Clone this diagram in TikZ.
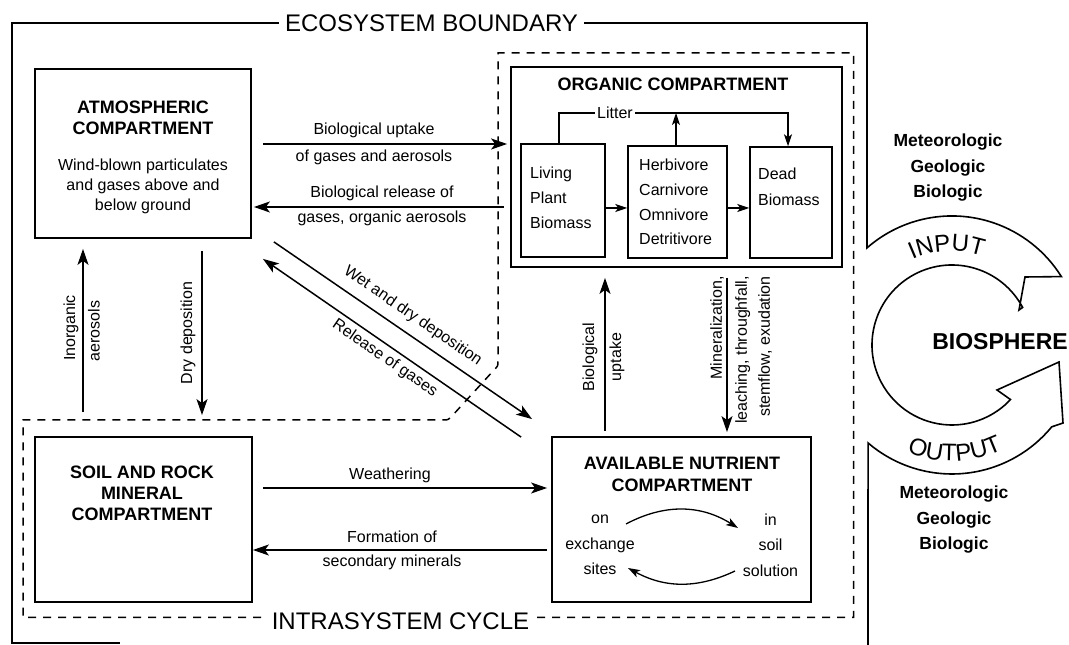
\documentclass[tikz,border=0pt]{standalone}
\usepackage{fontspec}
\setmainfont{Liberation Sans}
\usetikzlibrary{arrows.meta,calc,decorations.text}

\newcommand{\ttlfont}{\fontsize{18}{21}\selectfont\bfseries}
\newcommand{\txtfont}{\fontsize{16}{20}\selectfont}
\newcommand{\bigfont}{\fontsize{24}{28}\selectfont}

\begin{document}
\begin{tikzpicture}[x=1pt,y=1pt,
        box/.style={draw, line width=1.8pt, inner sep=0pt},
        ibox/.style={draw, line width=1.5pt, inner sep=0pt},
        ttl/.style={font=\ttlfont, align=center, inner sep=0pt},
        txt/.style={font=\txtfont, align=center, inner sep=0pt},
        lbl/.style={font=\txtfont, inner sep=2pt},
        arr/.style={line width=1.5pt, -{Stealth[length=16pt,width=11pt,inset=4pt]}},
        sarr/.style={line width=1.3pt, -{Stealth[length=12pt,width=8pt,inset=3pt]}},
        bound/.style={line width=1.6pt},
        cycdash/.style={line width=1.5pt, dash pattern=on 8pt off 7pt},
        src/.style={font=\fontsize{17.5}{25.5}\selectfont\bfseries, align=center, inner sep=0pt}]
                \useasboundingbox (0,0) rectangle (1069,645);
                \node[box, minimum width=216pt, minimum height=169pt] (atm) at (143,491.5) {};
                \node[ttl] (atmT) at (143,527.5) {ATMOSPHERIC\\COMPARTMENT};
                \node[txt] (atmB) at (143,459) {Wind-blown particulates\\and gases above and\\below ground};
                \node[box, minimum width=331pt, minimum height=200pt] (org) at (676.5,478) {};
                \node[ttl] (orgT) at (673,561) {ORGANIC COMPARTMENT};
                \node[ibox, minimum width=84pt, minimum height=113pt] (plant) at (563,444.5) {};
                \node[txt, align=left, anchor=west, font=\fontsize{16}{25}\selectfont] (plantT) at (530,447) {Living\\Plant\\Biomass};
                \node[ibox, minimum width=99pt, minimum height=112pt] (herb) at (677.5,443) {};
                \node[txt, align=left, anchor=west, font=\fontsize{16}{24.7}\selectfont] (herbT) at (639,443) {Herbivore\\Carnivore\\Omnivore\\Detritivore};
                \node[ibox, minimum width=82pt, minimum height=111pt] (dead) at (791,442.5) {};
                \node[txt, align=left, anchor=west, font=\fontsize{16}{26}\selectfont] (deadT) at (758,458) {Dead\\Biomass};
                \node[lbl] (litter) at (615,532) {Litter};
                \draw[line width=1.3pt] ([xshift=-4pt]plant.north) |- (litter.west);
                \draw[sarr] (litter.east) -| ([xshift=-3pt]dead.north);
                \draw[sarr] ([xshift=-1.5pt]herb.north) -- ([xshift=-1.5pt]herb.north |- litter);
                \draw[sarr] ([yshift=-7.5pt]plant.east) -- ([yshift=-6pt]herb.west);
                \draw[sarr] ([yshift=-6pt]herb.east) -- ([yshift=-5.5pt]dead.west);
                \draw[arr] ([shift={(11,9.5)}]atm.east) -- ([shift={(-3,23)}]org.west);
                \node[lbl] (upT1) at (374,515) {Biological uptake};
                \node[lbl] (upT2) at (374,488) {of gases and aerosols};
                \draw[arr] ([shift={(-6,-40)}]org.west) -- ([shift={(2,-53.5)}]atm.east);
                \node[lbl] (relT1) at (382,452) {Biological release of};
                \node[lbl] (relT2) at (382,427) {gases, organic aerosols};
                \node[box, minimum width=217pt, minimum height=165pt] (soil) at (143.5,125.5) {};
                \node[ttl] (soilT) at (142,152) {SOIL AND ROCK\\MINERAL\\COMPARTMENT};
                \node[box, minimum width=259pt, minimum height=165pt] (nut) at (681.5,125.5) {};
                \node[ttl, font=\fontsize{18}{22}\selectfont\bfseries] (nutT) at (682,171) {AVAILABLE NUTRIENT\\COMPARTMENT};
                \node[txt, font=\fontsize{16}{25.5}\selectfont] (exch) at (600,100) {on\\exchange\\sites};
                \node[txt, font=\fontsize{16}{25.5}\selectfont] (soln) at (770.5,100) {in\\soil\\solution};
                \draw[sarr] ([shift={(-55.5,-4.5)}]nut.center) to[bend left=30] ([shift={(56.5,-8.5)}]nut.center);
                \draw[sarr] ([shift={(53.5,-51.5)}]nut.center) to[bend left=27] ([shift={(-53.5,-48.5)}]nut.center);
                \draw[arr] ([shift={(-60.5,24)}]soil.north) -- ([shift={(-60,-10)}]atm.south);
                \node[lbl, rotate=90] (inorgT) at (71,317) {Inorganic};
                \node[lbl, rotate=90] (aeroT) at (94,314) {aerosols};
                \draw[arr] ([shift={(59,-12)}]atm.south) -- ([shift={(58.5,21)}]soil.north);
                \node[lbl, rotate=90] (dryT) at (188,312) {Dry deposition};
                \draw[arr] ([shift={(-76.5,5)}]nut.north) -- ([shift={(-71.5,-10)}]org.south);
                \node[lbl, rotate=90] (bupT1) at (590,288) {Biological};
                \node[lbl, rotate=90] (bupT2) at (617,288) {uptake};
                \draw[arr] ([shift={(50.5,-10)}]org.south) -- ([shift={(45.5,4)}]nut.north);
                \node[lbl, rotate=90, anchor=east, inner sep=0pt] (minT1) at (717,369) {Mineralization,};
                \node[lbl, rotate=90, anchor=east, align=right, inner sep=0pt, font=\fontsize{16}{23}\selectfont] (minT2) at (753.5,369) {leaching, throughfall,\\stemflow, exudation};
                \draw[arr] ([shift={(22,-3)}]atm.south east) -- node[lbl, above=7pt, sloped] (wetT) {Wet and dry deposition} ([shift={(-19,17)}]nut.north west);
                \draw[arr] ([shift={(-30,-1)}]nut.north west) -- node[lbl, below=2.5pt, sloped] (relgT) {Release of gases} ([shift={(11,-20)}]atm.south east);
                \draw[arr] ([shift={(10,31.5)}]soil.east) -- ([shift={(-4,31.5)}]nut.west);
                \node[lbl] (weaT) at (390,170) {Weathering};
                \draw[arr] ([shift={(-4,-30.5)}]nut.west) -- ([yshift=-30.5pt]soil.east);
                \node[lbl] (forT1) at (392,108) {Formation of};
                \node[lbl] (forT2) at (392,83) {secondary minerals};
                \node[font=\bigfont, inner sep=6pt] (eco) at (431.5,622) {ECOSYSTEM BOUNDARY};
                \draw[bound] (eco.west) -- (12,622) -- (12,2) -- (120,2);
                \coordinate (bio) at (952,300);
                \draw[bound] (eco.east) -- (867,622) -- (867,397.1) arc[start angle=131.2, end angle=32, radius=129] -- (1025,368) -- (1019,335) -- ([shift={(28:80)}]bio) arc[start angle=28, end angle=317, radius=80] -- (997,255) -- (1059,283) -- (1063,222) -- ([shift={(-39.4:129)}]bio) arc[start angle=-39.4, end angle=-130.6, radius=129] -- (868,0);
                \path[decorate, decoration={text along path, text={|\bigfont|INPUT}, text align=center}] ([shift={(128:94)}]bio) arc[start angle=128, end angle=58, radius=94];
                \path[decorate, decoration={text along path, text={|\bigfont|OUTPUT}, text align=center}] ([shift={(-124:116)}]bio) arc[start angle=-124, end angle=-53, radius=116];
                \node[font=\fontsize{23}{27}\selectfont\bfseries, inner sep=0pt] (bios) at (1000,303) {BIOSPHERE};
                \node[src] (inSrc) at (948,477) {Meteorologic\\Geologic\\Biologic};
                \node[src] (outSrc) at (954,125) {Meteorologic\\Geologic\\Biologic};
                \node[font=\bigfont, inner sep=0pt] (cyc) at (400.5,23.5) {INTRASYSTEM CYCLE};
                \draw[cycdash] (537,27.5) -- (853.5,27.5) -- (853.5,592) -- (498,592) -- (498,284) .. controls (498,279) .. (494,275) -- (452,229) .. controls (448,225) .. (443,225) -- (23,225) -- (23,27.5) -- (264,27.5);
\end{tikzpicture}
\end{document}
